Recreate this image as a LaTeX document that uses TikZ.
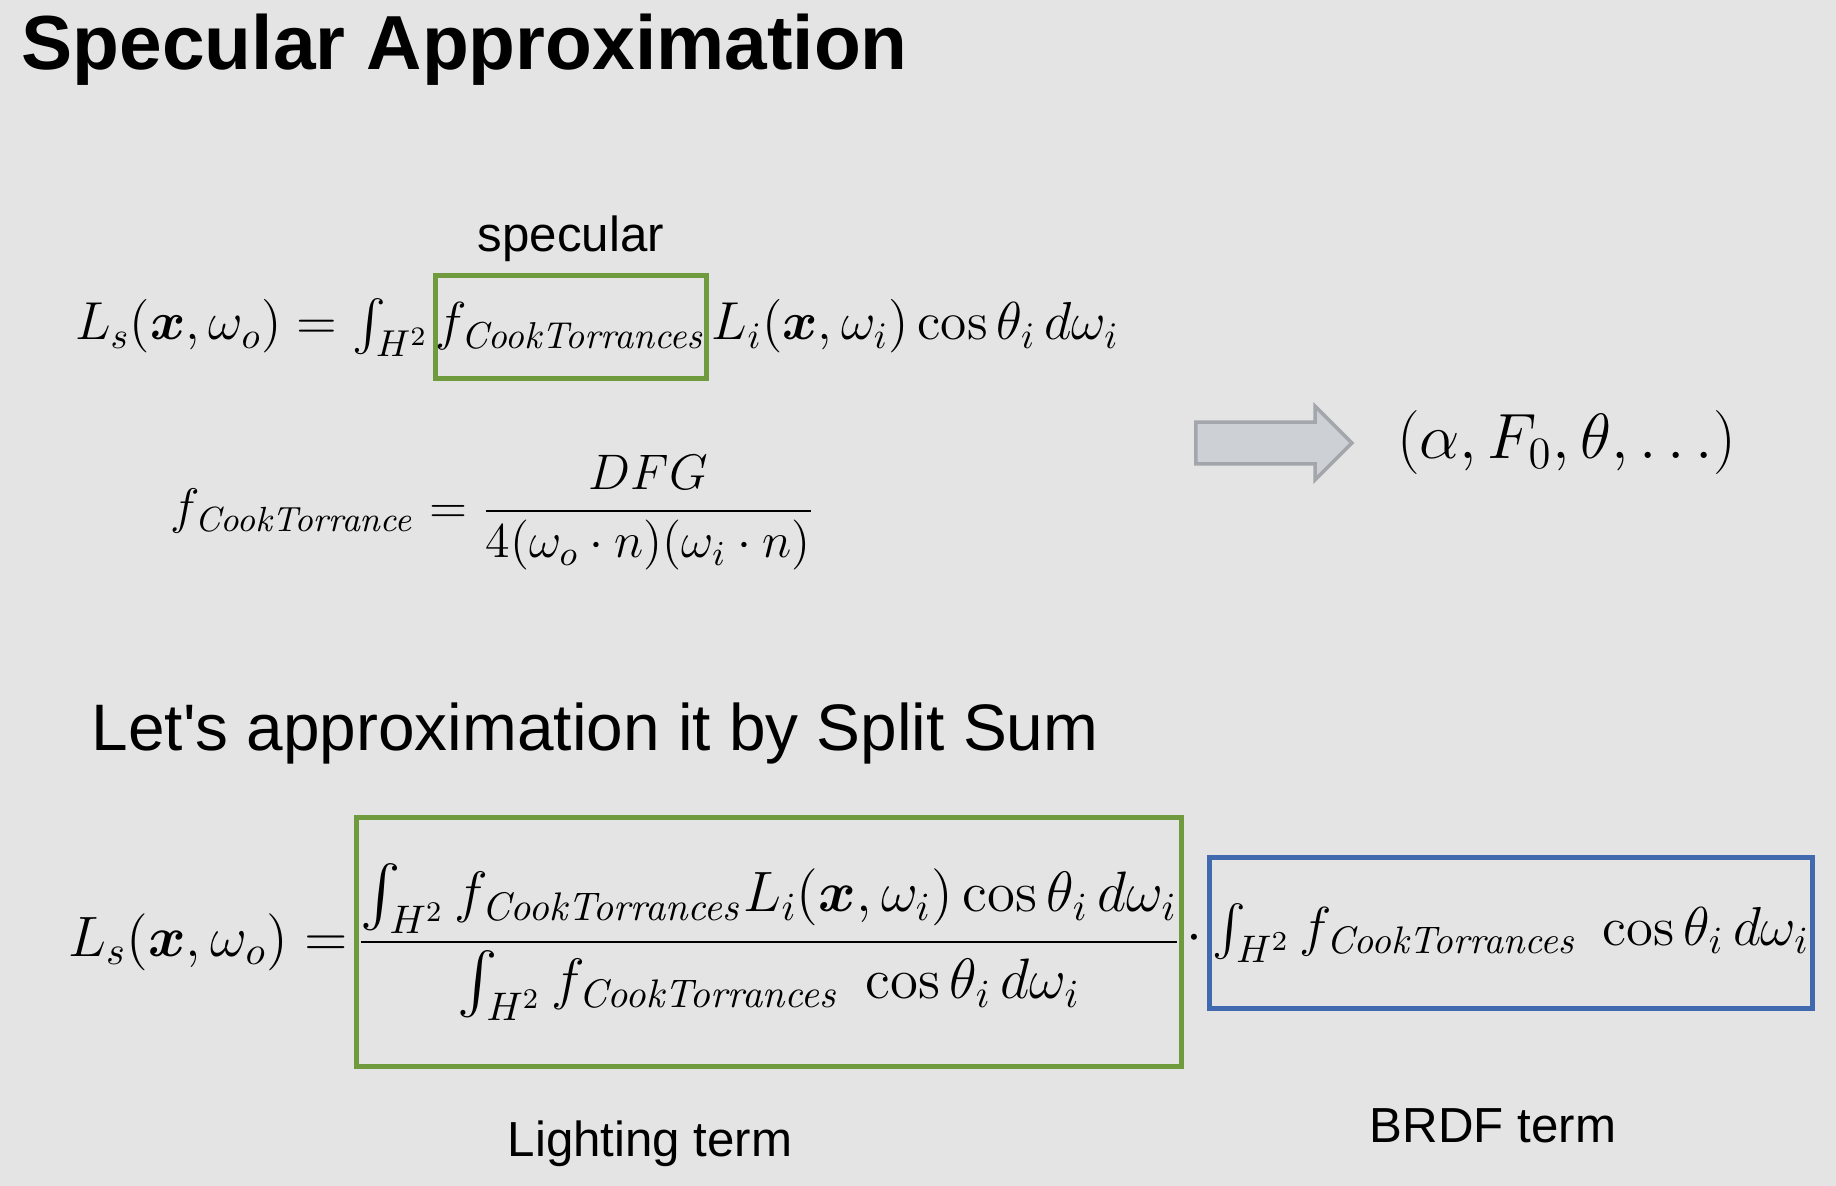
\RequirePackage{fix-cm}
\documentclass[tikz,border=0pt]{standalone}
\usepackage{amsmath}
\usepackage[no-math]{fontspec}
\setmainfont{Liberation Sans}
\newfontfamily\slidefont{Liberation Sans}
\usetikzlibrary{positioning}
\usetikzlibrary{shapes.arrows}

\definecolor{slidebg}{HTML}{E4E4E4}
\definecolor{specgreen}{HTML}{6F9B3E}
\definecolor{brdfblue}{HTML}{4169AE}
\definecolor{arrowgray}{HTML}{CDD0D5}
\definecolor{arrowedge}{HTML}{A3A6AB}

\newcommand{\fct}{f_{\mathit{CookTorrances}}}

\begin{document}
\begin{tikzpicture}[
  x=0.01cm, y=-0.01cm,
  txt/.style = {inner sep=0pt, font=\slidefont\fontsize{14}{17}\selectfont},
  eq/.style = {inner sep=0pt, font=\fontsize{15.2}{19}\selectfont},
  bigeq/.style = {inner sep=0pt, font=\fontsize{16.2}{20}\selectfont},
  termbox/.style = {draw=#1, line width=1.4pt}
  ]
	\useasboundingbox (0,0) rectangle (1836,1186);
	\fill[slidebg] (0,0) rectangle (1836,1186);

	\node[anchor=base west, inner sep=0pt, font=\slidefont\fontsize{21.8}{26}\selectfont\bfseries] (title) at (21,70) {Specular Approximation};

	% specular integral
	\node[eq, termbox=specgreen, anchor=base, minimum width=2.57cm, minimum height=1.03cm] (spec) at (571,340) {$\fct$};
	\node[eq, anchor=base east] (lsA) at ([xshift=-0.03cm]spec.base west) {$L_s(\boldsymbol{x},\omega_o)=\int_{H^2}$};
	\node[eq, anchor=base west] (lsB) at ([xshift=0.02cm]spec.base east) {$L_i(\boldsymbol{x},\omega_i)\cos\theta_i\,d\omega_i$};
	\node[txt, above=0.1cm of spec] (speclbl) {specular};

	\node[eq, font=\fontsize{14.2}{18}\selectfont, anchor=west] (ct) at (170,513) {$f_{\mathit{CookTorrance}}=\dfrac{DFG}{4(\omega_o\cdot n)(\omega_i\cdot n)}$};

	\node[single arrow, draw=arrowedge, fill=arrowgray, line width=1pt, anchor=west,
		minimum height=1.56cm, inner xsep=0pt, inner ysep=0.19cm, single arrow head extend=0.16cm] (imply) at (1194,443) {};
	\node[eq, font=\fontsize{18.2}{22}\selectfont, right=0.42cm of imply] (params) {$(\alpha,F_0,\theta,\ldots)$};

	\node[anchor=base west, inner sep=0pt, font=\slidefont\fontsize{18.7}{22}\selectfont] (split) at (91,751) {Let's approximation it by Split Sum};

	% split sum
	\node[bigeq, termbox=specgreen, minimum width=8.21cm, minimum height=2.48cm] (light) at (769,942)
		{$\dfrac{\int_{H^2}\fct L_i(\boldsymbol{x},\omega_i)\cos\theta_i\,d\omega_i}{\int_{H^2}\fct\;\cos\theta_i\,d\omega_i}$};
	\node[bigeq, left=0.06cm of light] (lhs) {$L_s(\boldsymbol{x},\omega_o)=$};
	\node[bigeq, anchor=base] (dot) at (1194,952) {$\cdot$};
	\node[bigeq, font=\fontsize{15.6}{20}\selectfont, termbox=brdfblue, minimum width=6.02cm, minimum height=1.51cm] (brdf) at (1511,933)
		{$\int_{H^2}\fct\;\cos\theta_i\,d\omega_i$};

	\node[txt] (lightlbl) at (650,1144) {Lighting term};
	\node[txt] (brdflbl) at (1493,1126) {BRDF term};

\end{tikzpicture}
\end{document}
